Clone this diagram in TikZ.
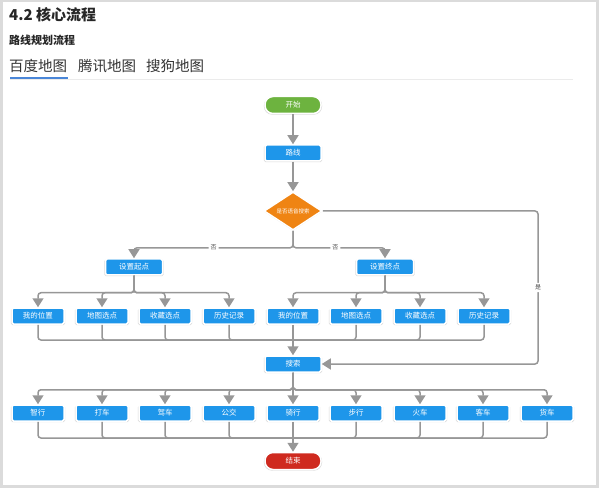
\documentclass[tikz,border=0pt]{standalone}
\usepackage{fontspec}
\newfontfamily\cjk{Noto Sans CJK SC}
\usetikzlibrary{shapes.geometric,arrows.meta,shadows}
\definecolor{flowgreen}{HTML}{6DB33F}
\definecolor{flowblue}{HTML}{1E96EA}
\definecolor{floworange}{HTML}{EF8413}
\definecolor{flowred}{HTML}{CF2A1F}
\definecolor{flowline}{HTML}{979797}
\definecolor{tabblue}{HTML}{4A86D8}

\begin{document}
\begin{tikzpicture}
  [x=1pt,y=-1pt,
   every node/.style={font=\cjk\fontsize{7.5}{8}\selectfont,text=white,inner sep=0pt},
   box/.style={rectangle,rounded corners=1.5pt,fill=flowblue,draw=white,line width=1.5pt,
     minimum width=52pt,minimum height=16pt,
     drop shadow={opacity=.3,shadow xshift=0pt,shadow yshift=-.8pt,shadow scale=1.04}},
   pill/.style={box,rounded corners=8pt,minimum width=56pt,minimum height=17pt},
   judge/.style={diamond,fill=floworange,draw=white,line width=1.5pt,
     minimum width=58pt,minimum height=36pt,font=\cjk\fontsize{5.5}{6}\selectfont,
     drop shadow={opacity=.3,shadow xshift=0pt,shadow yshift=-.8pt}},
   link/.style={draw=flowline,line width=1.5pt,rounded corners=3pt},
   arr/.style={link,-{Triangle[width=11pt,length=9pt]}},
   lbl/.style={fill=white,text=black!70,font=\cjk\fontsize{6}{7}\selectfont,inner sep=2pt}]
  \useasboundingbox (0,0) rectangle (600,489);
  \draw[black!14,line width=2.5pt] (1.5,1) rectangle (597.5,486.5);

  % header
  \node[anchor=west,text=black!85,font=\cjk\bfseries\fontsize{15}{16}\selectfont] (title) at (9,15) {4.2 核心流程};
  \node[anchor=west,text=black!85,font=\cjk\bfseries\fontsize{11}{12}\selectfont] (subtitle) at (9,40) {路线规划流程};
  \node[anchor=west,text=black!80,font=\cjk\fontsize{14.5}{15}\selectfont] (tab1) at (9,66) {百度地图};
  \node[anchor=west,text=black!80,font=\cjk\fontsize{14.5}{15}\selectfont] (tab2) at (78,66) {腾讯地图};
  \node[anchor=west,text=black!80,font=\cjk\fontsize{14.5}{15}\selectfont] (tab3) at (146,66) {搜狗地图};
  \draw[black!8,line width=.8pt] (10,79.5) -- (573,79.5);
  \draw[tabblue,line width=2pt] (10,78) -- (68,78);

  % flow
  \node[pill,fill=flowgreen] (start) at (293,105) {开始};
  \node[box,minimum width=56pt] (route) at (293,153) {路线};
  \node[judge] (voice) at (293,211) {是否语音搜索};
  \node[box,minimum width=57pt] (setA) at (134,267) {设置起点};
  \node[box,minimum width=57pt] (setB) at (385,267) {设置终点};
  \foreach \x/\name/\txt in {38/a1/我的位置,102/a2/地图选点,165/a3/收藏选点,229/a4/历史记录,
    293/b1/我的位置,356/b2/地图选点,420/b3/收藏选点,484/b4/历史记录}
    \node[box] (\name) at (\x,316) {\txt};
  \node[box,minimum width=56pt] (search) at (293,364) {搜索};
  \foreach \x/\name/\txt in {38/c1/智行,102/c2/打车,165/c3/驾车,229/c4/公交,293/c5/骑行,
    356/c6/步行,420/c7/火车,483/c8/客车,547/c9/货车}
    \node[box] (\name) at (\x,413) {\txt};
  \node[pill,fill=flowred] (finish) at (293,461) {结束};

  \coordinate (yesturn) at (538,211);
  \coordinate (mergeA) at (293,340);
  \coordinate (mergeC) at (293,438);

  \draw[arr] (start) -- (route);
  \draw[arr] (route) -- (voice);
  \draw[arr] (voice.south) -- ++(0,17) -| node[lbl,pos=.25] {否} (setA);
  \draw[arr] (voice.south) -- ++(0,17) -| node[lbl,pos=.23] {否} (setB);
  \draw[arr] (voice.east) -- (yesturn) |- node[lbl,pos=.25] {是} (search.east);

  \foreach \n in {a1,a2,a3,a4}
    \draw[arr] (setA.south) -- ++(0,17) -| (\n);
  \foreach \n in {b1,b2,b3,b4}
    \draw[arr] (setB.south) -- ++(0,17) -| (\n);
  \foreach \n in {a1,a2,a3,a4,b2,b3,b4}
    \draw[link] (\n.south) |- (mergeA);
  \draw[arr] (b1) -- (search);

  \foreach \n in {c1,c2,c3,c4,c6,c7,c8,c9}
    \draw[arr] (search.south) -- ++(0,17) -| (\n);
  \draw[arr] (search) -- (c5);
  \foreach \n in {c1,c2,c3,c4,c6,c7,c8,c9}
    \draw[link] (\n.south) |- (mergeC);
  \draw[arr] (c5) -- (finish);
\end{tikzpicture}
\end{document}
